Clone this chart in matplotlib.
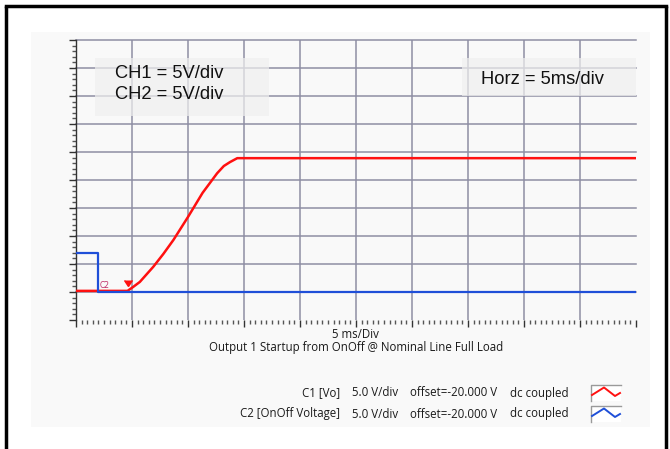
import matplotlib.pyplot as plt
from matplotlib.lines import Line2D
from matplotlib.patches import Rectangle
from matplotlib.ticker import MultipleLocator

# scope capture: time in ms, voltage in V (5 V/div, 5 ms/div, offset -20 V)
t_vo = [0.0, 4.6, 5.1, 5.7, 6.9, 7.8, 8.7, 10.0, 11.3, 12.6, 13.2, 13.75, 14.4, 50.0]
v_vo = [0.2, 0.2, 0.9, 1.8, 4.5, 6.8, 9.3, 13.4, 17.7, 21.2, 22.5, 23.2, 23.9, 23.9]

t_onoff = [0.0, 2.0, 2.0, 50.0]
v_onoff = [6.9, 6.9, 0.0, 0.0]

W, H = 670, 449
fig = plt.figure(figsize=(W / 100, H / 100), dpi=100)
fig.patch.set_facecolor("white")


def fx(x):
    return x / W


def fy(y):
    return 1 - y / H


def box(x0, y0, x1, y1, **kw):
    fig.patches.append(Rectangle((fx(x0), fy(y1)), fx(x1) - fx(x0), fy(y0) - fy(y1),
                                 transform=fig.transFigure, **kw))


def seg(xs, ys, **kw):
    fig.add_artist(Line2D([fx(v) for v in xs], [fy(v) for v in ys],
                          transform=fig.transFigure, **kw))


# outer frame and light panel
seg([6, 6], [449, 6], color="black", lw=2.5, solid_capstyle="butt")
seg([6, 666], [6, 6], color="black", lw=2.5, solid_capstyle="projecting")
seg([666, 666], [6, 449], color="black", lw=2.5, solid_capstyle="butt")
box(31, 32, 650, 427, facecolor="#f9f9f9", edgecolor="none", zorder=-5)

ax = fig.add_axes([fx(76), fy(320), fx(636) - fx(76), fy(40) - fy(320)])
ax.set_facecolor("#f9f9f9")
ax.set_xlim(0, 50)
ax.set_ylim(-5, 45)

grid_c = "#8e8ea4"
for gx in range(5, 50, 5):
    ax.axvline(gx, color=grid_c, lw=1.1, zorder=1)
for gy in range(0, 50, 5):
    ax.axhline(gy, color=grid_c, lw=1.1, zorder=1, clip_on=False)

for s in ["top", "right", "bottom"]:
    ax.spines[s].set_visible(False)
ax.spines["left"].set_color("#333333")
ax.spines["left"].set_linewidth(1.0)

ax.xaxis.set_major_locator(MultipleLocator(5))
ax.xaxis.set_minor_locator(MultipleLocator(0.5))
ax.yaxis.set_major_locator(MultipleLocator(5))
ax.yaxis.set_minor_locator(MultipleLocator(1))
ax.tick_params(which="major", length=5, width=1.0, color="#333333",
               labelbottom=False, labelleft=False, direction="out")
ax.tick_params(which="minor", length=3, width=1.0, color="#555555", direction="out")

ax.plot(t_vo, v_vo, color="#ff1010", lw=1.8, zorder=3,
        solid_joinstyle="round", solid_capstyle="round")
ax.plot(t_onoff, v_onoff, color="#1f4fd8", lw=1.6, zorder=4)

# channel markers
ax.plot([4.6], [1.0], marker=7, color="#ff1010", markersize=6, zorder=5)
ax.text(2.1, 0.4, "C2", color="#c0306a", fontsize=5.5, ha="left", va="bottom", zorder=5)

# annotation boxes over the grid
box(95, 58, 269, 116, facecolor="#f0f0f0", edgecolor="none", alpha=0.7, zorder=5)
box(462, 58, 636, 96, facecolor="#f0f0f0", edgecolor="none", alpha=0.7, zorder=5)
big = dict(fontsize=13.2, family="Liberation Sans", color="#111111", va="center", zorder=6)
fig.text(fx(115), fy(73), "CH1 = 5V/div", **big)
fig.text(fx(115), fy(94.5), "CH2 = 5V/div", **big)
fig.text(fx(481), fy(79), "Horz = 5ms/div", **big)

small = dict(fontsize=8.3, family="Open Sans", color="#1a1a1a", va="center")
fig.text(fx(355), fy(334), "5 ms/Div", ha="center", **small)
fig.text(fx(356), fy(348), "Output 1 Startup from OnOff @ Nominal Line Full Load", ha="center", **small)

rows = [("C1 [Vo]", 393, "#ff1010", 385),
        ("C2 [OnOff Voltage]", 414, "#1f4fd8", 406)]
for name, ty, col, by in rows:
    fig.text(fx(340), fy(ty), name, ha="right", **small)
    fig.text(fx(352), fy(ty), "5.0 V/div", ha="left", **small)
    fig.text(fx(410), fy(ty), "offset=-20.000 V", ha="left", **small)
    fig.text(fx(510), fy(ty), "dc coupled", ha="left", **small)
    box(591, by, 621, by + 16, facecolor="white", edgecolor="none")
    seg([591, 591, 621], [by + 16, by, by], color="#9a9a9a", lw=1.0)
    seg([592, 604, 615, 620], [by + 10, by + 2.5, by + 11, by + 8], color=col, lw=1.4)

fig.savefig("out.png", dpi=100)
